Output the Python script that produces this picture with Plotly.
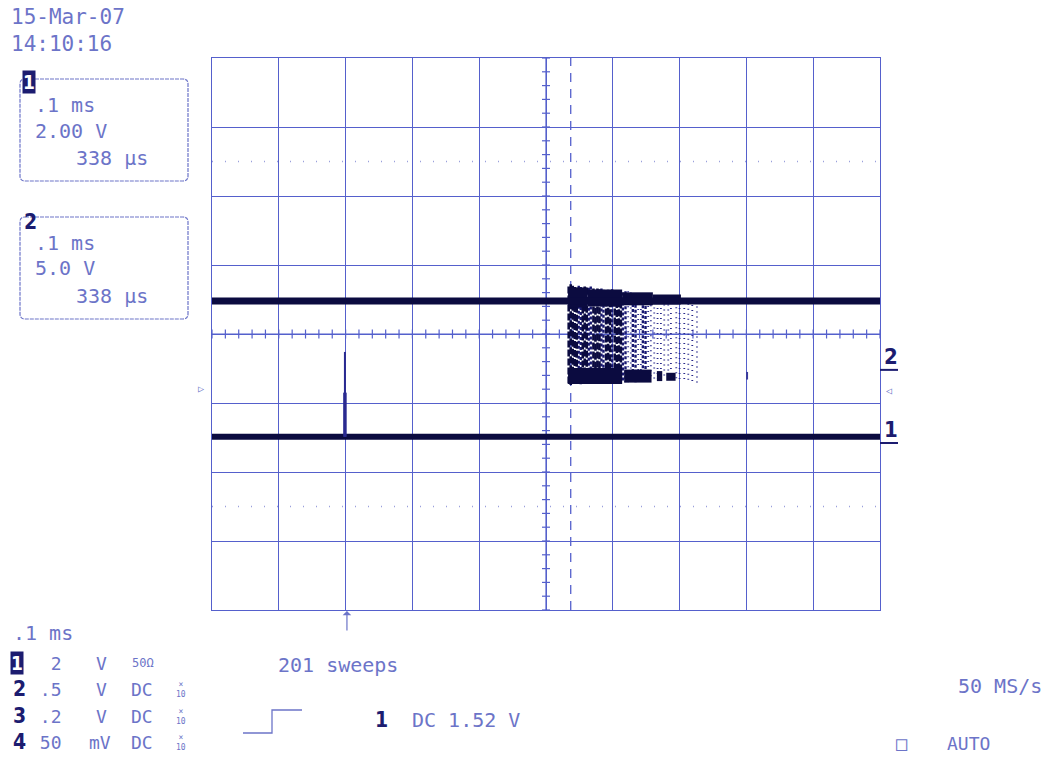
import plotly.graph_objects as go

# ---------------- data (x in divisions, 0.1 ms/div; y in divisions) ----------------
x_span = [0.0, 10.0]
ch2_level = [0.48, 0.48]
ch1_level = [-1.49, -1.49]

spike_x = [1.99, 1.99]
spike_y = [-0.26, -1.49]
spike_base_y = [-0.85, -1.49]

burst_dense_x = [5.34, 5.37, 5.40, 5.43, 5.46, 5.55, 5.58, 5.61, 5.71, 5.74, 5.77, 5.80,
                 5.90, 5.93, 5.96, 6.03, 6.06, 6.09, 6.12]
burst_dense_top = [0.69, 0.72, 0.70, 0.68, 0.67, 0.66, 0.69, 0.67, 0.66, 0.64, 0.66, 0.65,
                   0.63, 0.64, 0.62, 0.63, 0.61, 0.62, 0.60]
burst_dense_bot = [-0.72, -0.74, -0.73, -0.72, -0.71, -0.72, -0.71, -0.72, -0.70, -0.72, -0.71, -0.70,
                   -0.71, -0.70, -0.71, -0.69, -0.70, -0.68, -0.68]

burst_mid_x = [5.49, 5.52, 5.64, 5.67, 5.83, 5.86, 5.99, 6.15, 6.19, 6.30, 6.34, 6.45, 6.49]
burst_mid_top = [0.70, 0.68, 0.67, 0.69, 0.66, 0.64, 0.65, 0.60, 0.62, 0.58, 0.57, 0.56, 0.55]
burst_mid_bot = [-0.72, -0.73, -0.71, -0.72, -0.71, -0.70, -0.71, -0.70, -0.70, -0.69, -0.70, -0.68, -0.67]

burst_sparse_x = [6.23, 6.27, 6.38, 6.42, 6.53, 6.57, 6.62, 6.67, 6.72, 6.77, 6.83, 6.87,
                  6.95, 7.00, 7.07, 7.13, 7.19, 7.26]
burst_sparse_top = [0.62, 0.60, 0.58, 0.58, 0.55, 0.56, 0.53, 0.52, 0.52, 0.50, 0.50, 0.52,
                    0.46, 0.45, 0.45, 0.44, 0.42, 0.40]
burst_sparse_bot = [-0.70, -0.69, -0.69, -0.68, -0.67, -0.66, -0.65, -0.64, -0.65, -0.63, -0.62, -0.62,
                    -0.66, -0.70, -0.70, -0.72, -0.70, -0.72]

upper_band_x0 = [5.33, 5.62, 6.14, 6.60]
upper_band_x1 = [5.62, 6.14, 6.60, 7.02]
upper_band_y = [0.53, 0.52, 0.51, 0.50]
upper_band_w = [20, 17, 13, 10]

low_band_x0 = [5.33, 6.17, 6.66, 6.80]
low_band_x1 = [6.14, 6.58, 6.74, 6.94]
low_band_y = [-0.61, -0.61, -0.61, -0.62]
low_band_w = [16, 13, 10, 8]

stray_x = [8.01]
stray_top = [-0.55]
stray_bot = [-0.66]

trigger_x = 5.37
marker_levels = {"2": -0.52, "1": -1.58}

# ---------------- helpers ----------------
L, R, T, B = 212, 880, 58, 610
W, H = 1057, 757


def px(X):
    return (X - L) / (R - L)


def py(Y):
    return (B - Y) / (B - T)


TRACE = "#0b0b40"
GRID = "#5560cc"
LIGHT = "#6c74c8"
BOLD = "#1c1c70"
MONO = "DejaVu Sans Mono"

fig = go.Figure()

# graticule center ticks (style)
tick_x, tick_y = [], []
for i in range(51):
    xv = i * 0.2
    tick_x += [xv, xv, None]
    tick_y += [-0.065, 0.065, None]
for i in range(41):
    yv = -4 + i * 0.2
    tick_x += [4.94, 5.06, None]
    tick_y += [yv, yv, None]
fig.add_trace(go.Scatter(x=tick_x, y=tick_y, mode="lines",
                         line=dict(color=GRID, width=1.2), hoverinfo="skip"))
fig.add_trace(go.Scatter(x=[0, 10], y=[0, 0], mode="lines",
                         line=dict(color=GRID, width=1.2), hoverinfo="skip"))
fig.add_trace(go.Scatter(x=[5, 5], y=[-4, 4], mode="lines",
                         line=dict(color=GRID, width=1.2), hoverinfo="skip"))
# dotted reference lines
for yv in (2.5, -2.5):
    fig.add_trace(go.Scatter(x=[0, 10], y=[yv, yv], mode="lines",
                             line=dict(color="#9aa0dc", width=1.5, dash="1px,12px"), hoverinfo="skip"))
# trigger cursor
fig.add_trace(go.Scatter(x=[trigger_x, trigger_x], y=[-4, 4], mode="lines",
                         line=dict(color=GRID, width=1.3, dash="9px,7px"), hoverinfo="skip"))


def segs(xs, tops, bots):
    sx, sy = [], []
    for xv, t, b in zip(xs, tops, bots):
        sx += [xv, xv, None]
        sy += [t, b, None]
    return sx, sy


# burst
sx, sy = segs(burst_sparse_x, burst_sparse_top, burst_sparse_bot)
fig.add_trace(go.Scatter(x=sx, y=sy, mode="lines",
                         line=dict(color="#2a2a8c", width=1.8, dash="1px,4px"), hoverinfo="skip"))
sx, sy = segs(burst_mid_x, burst_mid_top, burst_mid_bot)
fig.add_trace(go.Scatter(x=sx, y=sy, mode="lines",
                         line=dict(color="#181870", width=2.4, dash="3px,2px"), hoverinfo="skip"))
sx, sy = segs(burst_dense_x, burst_dense_top, burst_dense_bot)
fig.add_trace(go.Scatter(x=sx, y=sy, mode="lines",
                         line=dict(color=TRACE, width=2.6, dash="7px,2px"), hoverinfo="skip"))
for x0, x1, yv, w in zip(upper_band_x0, upper_band_x1, upper_band_y, upper_band_w):
    fig.add_trace(go.Scatter(x=[x0, x1], y=[yv, yv], mode="lines",
                             line=dict(color=TRACE, width=w), hoverinfo="skip"))
for x0, x1, yv, w in zip(low_band_x0, low_band_x1, low_band_y, low_band_w):
    fig.add_trace(go.Scatter(x=[x0, x1], y=[yv, yv], mode="lines",
                             line=dict(color=TRACE, width=w), hoverinfo="skip"))
sx, sy = segs(stray_x, stray_top, stray_bot)
fig.add_trace(go.Scatter(x=sx, y=sy, mode="lines",
                         line=dict(color="#3a3a9a", width=2), hoverinfo="skip"))

# channel traces
fig.add_trace(go.Scatter(x=x_span, y=ch2_level, mode="lines",
                         line=dict(color=TRACE, width=7), hoverinfo="skip"))
fig.add_trace(go.Scatter(x=x_span, y=ch1_level, mode="lines",
                         line=dict(color=TRACE, width=6), hoverinfo="skip"))
fig.add_trace(go.Scatter(x=spike_x, y=spike_y, mode="lines",
                         line=dict(color="#2a2a90", width=2), hoverinfo="skip"))
fig.add_trace(go.Scatter(x=spike_x, y=spike_base_y, mode="lines",
                         line=dict(color="#2a2a90", width=3.5), hoverinfo="skip"))

shapes = []
# rounded dashed info boxes
for (x0, y0, x1, y1) in [(20, 79, 188, 181), (20, 217, 188, 319)]:
    r = 5
    a0, a1 = px(x0), px(x1)
    b0, b1 = py(y1), py(y0)
    rx, ry = r / (R - L), r / (B - T)
    path = (f"M {a0+rx},{b1} L {a1-rx},{b1} Q {a1},{b1} {a1},{b1-ry} "
            f"L {a1},{b0+ry} Q {a1},{b0} {a1-rx},{b0} L {a0+rx},{b0} "
            f"Q {a0},{b0} {a0},{b0+ry} L {a0},{b1-ry} Q {a0},{b1} {a0+rx},{b1} Z")
    shapes.append(dict(type="path", xref="paper", yref="paper", path=path,
                       line=dict(color=LIGHT, width=1.2, dash="4px,1px")))
# trigger step symbol
shapes.append(dict(type="path", xref="paper", yref="paper",
                   path=f"M {px(243)},{py(733)} L {px(272)},{py(733)} L {px(272)},{py(710)} L {px(302)},{py(710)}",
                   line=dict(color=LIGHT, width=1.3)))
# channel ground markers at right
for lab, yv in marker_levels.items():
    shapes.append(dict(type="line", xref="paper", yref="y", x0=1.0, x1=px(898), y0=yv, y1=yv,
                       line=dict(color=BOLD, width=2)))

ann = []


def text(X, Y, s, size=17, color=LIGHT, xanchor="left", bold=False, **kw):
    ann.append(dict(x=px(X), y=py(Y), xref="paper", yref="paper", text=s, showarrow=False,
                    xanchor=xanchor, yanchor="middle",
                    font=dict(family="Liberation Sans Narrow, Arial Narrow, DejaVu Sans Condensed" if bold else MONO,
                              size=size, color=color, weight="bold" if bold else "normal"), **kw))


def boxed(X, Y, s, size=17):
    ann.append(dict(x=px(X), y=py(Y), xref="paper", yref="paper", text=f"<b>{s}</b>", showarrow=False,
                    xanchor="center", yanchor="middle", bgcolor=BOLD, borderpad=0,
                    font=dict(family="DejaVu Sans Condensed", size=size, color="white")))


text(9, 17, "15-Mar-07", 21)
text(9, 44, "14:10:16", 21)
boxed(29, 82, "1", 19)
text(33, 105, ".1 ms", 20)
text(33, 131, "2.00 V", 20)
text(74, 158, "338 µs", 20)
text(22, 222, "<b>2</b>", 21, BOLD, bold=True)
text(33, 243, ".1 ms", 20)
text(33, 268, "5.0 V", 20)
text(74, 296, "338 µs", 20)

text(11, 633, ".1 ms", 20)
rows = [(663, "1", "  2", "V", "50Ω"), (689, "2", " .5", "V", "DC"),
        (716, "3", " .2", "V", "DC"), (742, "4", " 50", "mV", "DC")]
for Y, ch, val, unit, cpl in rows:
    if ch == "1":
        boxed(17, Y, "1", 19)
    else:
        text(11, Y, f"<b>{ch}</b>", 21, BOLD, bold=True)
    text(27, Y, val, 18)
    text(87 if unit == "mV" else 94, Y, unit, 18)
    if cpl == "50Ω":
        text(130, Y, cpl, 12)
    else:
        text(129, Y, cpl, 18)
        text(181, Y, "×<br>10", 8, xanchor="center")

text(276, 665, "201 sweeps", 20)
text(373, 720, "<b>1</b>", 21, BOLD, bold=True)
text(410, 720, "DC 1.52 V", 20)
text(956, 686, "50 MS/s", 20)
text(894, 743, "□", 19)
text(945, 743, "AUTO", 18)

# right channel labels
text(882, 356, "<b>2</b>", 22, BOLD, bold=True)
text(882, 429, "<b>1</b>", 22, BOLD, bold=True)
text(884, 390, "◁", 10)
text(196, 388, "▷", 10)

# trigger position arrow
ann.append(dict(x=2.02, y=0, xref="x", yref="paper", ax=0, ay=22, text="", showarrow=True,
                arrowhead=1, arrowsize=1.2, arrowwidth=1.2, arrowcolor=LIGHT, standoff=1))

axis_common = dict(showticklabels=False, ticks="", showgrid=True, gridcolor=GRID, gridwidth=1.2,
                   zeroline=False, showline=True, linecolor=GRID, linewidth=1.3, mirror=True,
                   fixedrange=True)
fig.update_layout(
    width=W, height=H, autosize=False,
    margin=dict(l=L, r=W - R, t=T, b=H - B, pad=0),
    paper_bgcolor="white", plot_bgcolor="white",
    showlegend=False,
    xaxis=dict(range=[0, 10], dtick=1, **axis_common),
    yaxis=dict(range=[-4, 4], dtick=1, **axis_common),
    shapes=shapes, annotations=ann,
)

fig.write_html("out.html", config={"displayModeBar": False},
               post_script="document.body.style.margin='0';document.body.style.overflow='hidden';")
